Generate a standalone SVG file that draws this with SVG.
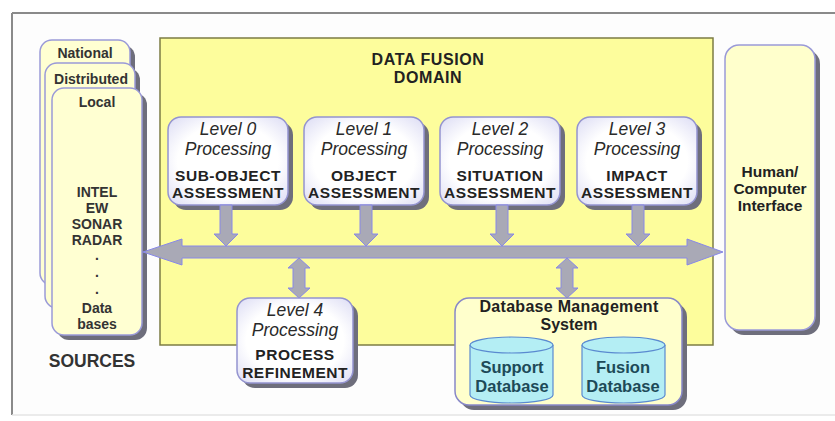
<svg xmlns="http://www.w3.org/2000/svg" xmlns:xlink="http://www.w3.org/1999/xlink" width="835" height="421" viewBox="0 0 835 421">
<style>
text{font-family:"Liberation Sans",Arial,sans-serif;fill:#222;text-anchor:middle}
.b{font-weight:bold}
.t{font-size:15.5px;font-weight:bold;letter-spacing:0.5px}
.h{font-size:16px;font-weight:bold}
.lv{font-size:17.5px;font-style:italic;fill:#2a2a2a}
.src{font-size:14px;font-weight:bold;fill:#333}
.card{fill:#ffffd2;stroke:#9a9ad8;stroke-width:1.5}
.proc{fill:url(#pg);stroke:#9494d0;stroke-width:1.5}
.shd{fill:#6e6e7c}
.arr{fill:#a9a9b6;stroke:#8888e8;stroke-width:1}
.cyl{fill:#b4eef4;stroke:#5a8ad0;stroke-width:1.2}
.db{font-size:16.5px;font-weight:bold;fill:#1d4a58}
</style>
<defs>
<radialGradient id="pg" cx="50%" cy="50%" r="70%">
<stop offset="0.6" stop-color="#ffffff"/>
<stop offset="1" stop-color="#dcdcf4"/>
</radialGradient>
<path id="down" d="M-6,0 H6 V29 H12 L0,41 L-12,29 H-6 Z"/>
<path id="dbl" d="M0,0 L11,10 H6 V30 H11 L0,40 L-11,30 H-6 V10 H-11 Z"/>
</defs>
<rect x="0" y="0" width="835" height="421" fill="#fff"/>
<rect x="12" y="13" width="830" height="402" fill="#fdfdfd" stroke="none"/>
<line x1="12" y1="13" x2="835" y2="13" stroke="#8a8a8a" stroke-width="2"/>
<line x1="12" y1="13" x2="12" y2="415" stroke="#8a8a8a" stroke-width="2"/>
<line x1="12" y1="415" x2="835" y2="415" stroke="#e4e4e4" stroke-width="1.5"/>

<g id="domain">
<rect x="160" y="38" width="553" height="307" fill="#fdfd9c" stroke="#7c7c44" stroke-width="1.5"/>
<text class="h" x="428" y="65" style="letter-spacing:0.6px">DATA FUSION</text>
<text class="h" x="428" y="83" style="letter-spacing:0.6px">DOMAIN</text>
</g>

<g id="sources">
<rect class="shd" x="45" y="45" width="90" height="245" rx="12"/>
<rect class="card" x="40" y="40" width="90" height="245" rx="12"/>
<text class="src" x="85" y="58">National</text>
<rect class="shd" x="50" y="68" width="90" height="245" rx="12"/>
<rect class="card" x="45" y="63" width="90" height="245" rx="12"/>
<text class="src" x="91" y="84">Distributed</text>
<rect class="shd" x="57" y="93" width="90" height="247" rx="12"/>
<rect class="card" x="52" y="88" width="90" height="247" rx="12"/>
<text class="src" x="97" y="107">Local</text>
<text class="src" x="97" y="197">INTEL</text>
<text class="src" x="97" y="213">EW</text>
<text class="src" x="97" y="229">SONAR</text>
<text class="src" x="97" y="245">RADAR</text>
<text class="src" x="97" y="260">.</text>
<text class="src" x="97" y="277">.</text>
<text class="src" x="97" y="294">.</text>
<text class="src" x="97" y="313">Data</text>
<text class="src" x="97" y="329">bases</text>
<text class="b" x="92" y="367" style="font-size:17.5px;fill:#333">SOURCES</text>
</g>

<g id="level0">
<rect class="shd" x="173" y="122" width="120" height="88" rx="13"/>
<rect class="proc" x="168" y="117" width="120" height="88" rx="13"/>
<text class="lv" x="228" y="135">Level 0</text>
<text class="lv" x="228" y="155">Processing</text>
<text class="t" x="228" y="181">SUB-OBJECT</text>
<text class="t" x="228" y="198">ASSESSMENT</text>
</g>
<g id="level1">
<rect class="shd" x="309" y="122" width="120" height="88" rx="13"/>
<rect class="proc" x="304" y="117" width="120" height="88" rx="13"/>
<text class="lv" x="364" y="135">Level 1</text>
<text class="lv" x="364" y="155">Processing</text>
<text class="t" x="364" y="181">OBJECT</text>
<text class="t" x="364" y="198">ASSESSMENT</text>
</g>
<g id="level2">
<rect class="shd" x="445" y="122" width="120" height="88" rx="13"/>
<rect class="proc" x="440" y="117" width="120" height="88" rx="13"/>
<text class="lv" x="500" y="135">Level 2</text>
<text class="lv" x="500" y="155">Processing</text>
<text class="t" x="500" y="181">SITUATION</text>
<text class="t" x="500" y="198">ASSESSMENT</text>
</g>
<g id="level3">
<rect class="shd" x="582" y="122" width="120" height="88" rx="13"/>
<rect class="proc" x="577" y="117" width="120" height="88" rx="13"/>
<text class="lv" x="637" y="135">Level 3</text>
<text class="lv" x="637" y="155">Processing</text>
<text class="t" x="637" y="181">IMPACT</text>
<text class="t" x="637" y="198">ASSESSMENT</text>
</g>

<g id="hci">
<rect class="shd" x="730" y="50" width="90" height="285" rx="14"/>
<rect class="card" x="725" y="45" width="90" height="285" rx="14" style="fill:#ffffcc"/>
<text class="b" x="770" y="177" style="font-size:15.5px">Human/</text>
<text class="b" x="770" y="194" style="font-size:15.5px">Computer</text>
<text class="b" x="770" y="211" style="font-size:15.5px">Interface</text>
</g>

<g id="connectors">
<path class="arr" d="M143,252 L182,239 V246 H687 V239 L723,252 L687,265 V258 H182 V265 Z"/>
<use xlink:href="#down" class="arr" x="226" y="205"/>
<use xlink:href="#down" class="arr" x="366" y="205"/>
<use xlink:href="#down" class="arr" x="502" y="205"/>
<use xlink:href="#down" class="arr" x="638" y="205"/>
<use xlink:href="#dbl" class="arr" x="299" y="258"/>
<use xlink:href="#dbl" class="arr" x="567" y="258"/>
</g>

<g id="level4">
<rect class="shd" x="242" y="303" width="116" height="85" rx="13"/>
<rect class="proc" x="237" y="298" width="116" height="85" rx="13"/>
<text class="lv" x="295" y="316">Level 4</text>
<text class="lv" x="295" y="336">Processing</text>
<text class="t" x="295" y="360">PROCESS</text>
<text class="t" x="295" y="378">REFINEMENT</text>
</g>

<g id="dbms">
<rect class="shd" x="460" y="303" width="227" height="107" rx="14"/>
<rect class="card" x="455" y="298" width="227" height="107" rx="14" style="fill:#ffffcc;stroke:#8888c8"/>
<text class="h" x="569" y="312" style="letter-spacing:0.3px">Database Management</text>
<text class="h" x="569" y="330">System</text>
</g>
<g id="support-db">
<path class="cyl" d="M470,345 V395 A41.5,8 0 0 0 553,395 V345"/>
<ellipse class="cyl" cx="511.5" cy="345" rx="41.5" ry="8"/>
<text class="db" x="512" y="373">Support</text>
<text class="db" x="512" y="392">Database</text>
</g>
<g id="fusion-db">
<path class="cyl" d="M582,345 V395 A41.5,8 0 0 0 665,395 V345"/>
<ellipse class="cyl" cx="623.5" cy="345" rx="41.5" ry="8"/>
<text class="db" x="623" y="373">Fusion</text>
<text class="db" x="623" y="392">Database</text>
</g>
</svg>
